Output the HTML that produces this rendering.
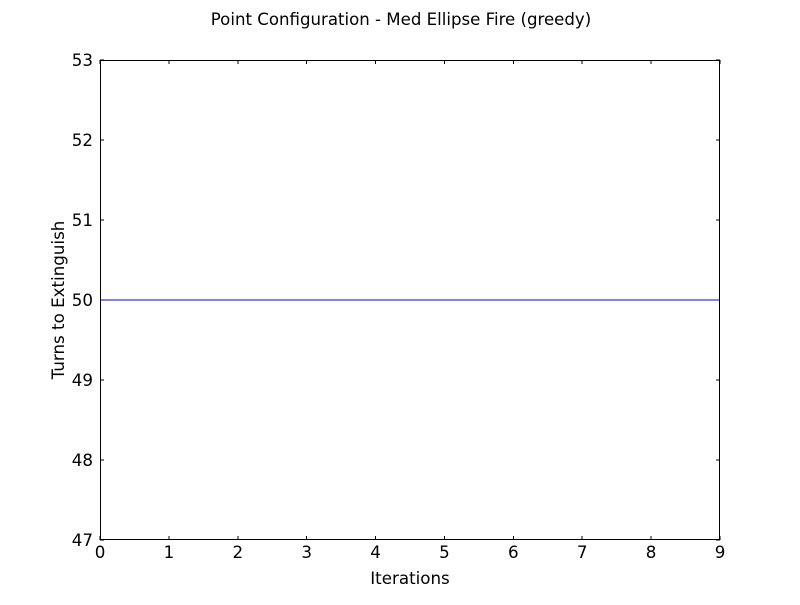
<!DOCTYPE html>
<html><head><meta charset="utf-8"><style>
body{margin:0;background:#fff;}
svg text{font-family:"DejaVu Sans","Liberation Sans",sans-serif;fill:#000;}
</style></head><body>
<svg id="chart" width="800" height="600" xmlns="http://www.w3.org/2000/svg">
<rect width="800" height="600" fill="#fff"/>
<text x="401" y="25" text-anchor="middle" font-size="16.6">Point Configuration - Med Ellipse Fire (greedy)</text>
<text x="410" y="584" text-anchor="middle" font-size="16.7">Iterations</text>
<text transform="translate(64,300) rotate(-90)" text-anchor="middle" font-size="16.7">Turns to Extinguish</text>
<g id="ticks" shape-rendering="crispEdges"></g>
<g id="marks" shape-rendering="crispEdges"></g>
<rect x="100.5" y="60.5" width="619" height="479" fill="none" stroke="#000" stroke-width="1" shape-rendering="crispEdges"/>
</svg>
<script>
const xTicks=[0,1,2,3,4,5,6,7,8,9];
const yTicks=[47,48,49,50,51,52,53];
const iterations=[0,1,2,3,4,5,6,7,8,9];
const turns=[50,50,50,50,50,50,50,50,50,50];
const L=100,R=720,T=60,B=540;
const sx=v=>L+(v-0)/(9-0)*(R-L);
const sy=v=>B-(v-47)/(53-47)*(B-T);
const NS="http://www.w3.org/2000/svg";
const tg=document.getElementById('ticks');
function mk(tag,attrs,parent){const e=document.createElementNS(NS,tag);for(const k in attrs)e.setAttribute(k,attrs[k]);parent.appendChild(e);return e;}
xTicks.forEach(v=>{
  const x=sx(v);
  const t1=mk('line',{x1:x,x2:x,y1:B,y2:B-4,stroke:'#000'},tg);
  
  
  const t2=mk('line',{x1:x,x2:x,y1:T,y2:T+4,stroke:'#000'},tg);
  
  
  const lb=mk('text',{x:x,y:B+18,'text-anchor':'middle','font-size':16.7},tg);
  lb.textContent=v;
  
  
});
yTicks.forEach(v=>{
  const y=sy(v);
  const t1=mk('line',{x1:L,x2:L+4,y1:y,y2:y,stroke:'#000'},tg);
  
  
  const t2=mk('line',{x1:R,x2:R-4,y1:y,y2:y,stroke:'#000'},tg);
  
  
  const lb=mk('text',{x:L-7,y:y+6,'text-anchor':'end','font-size':16.7},tg);
  lb.textContent=v;
  
  
});
const pts=iterations.map((x,i)=>sx(x)+','+sy(turns[i])).join(' ');
const line=mk('polyline',{points:pts,fill:'none',stroke:'#0000ff','stroke-width':1},document.getElementById('marks'));


</script>
</body></html>
